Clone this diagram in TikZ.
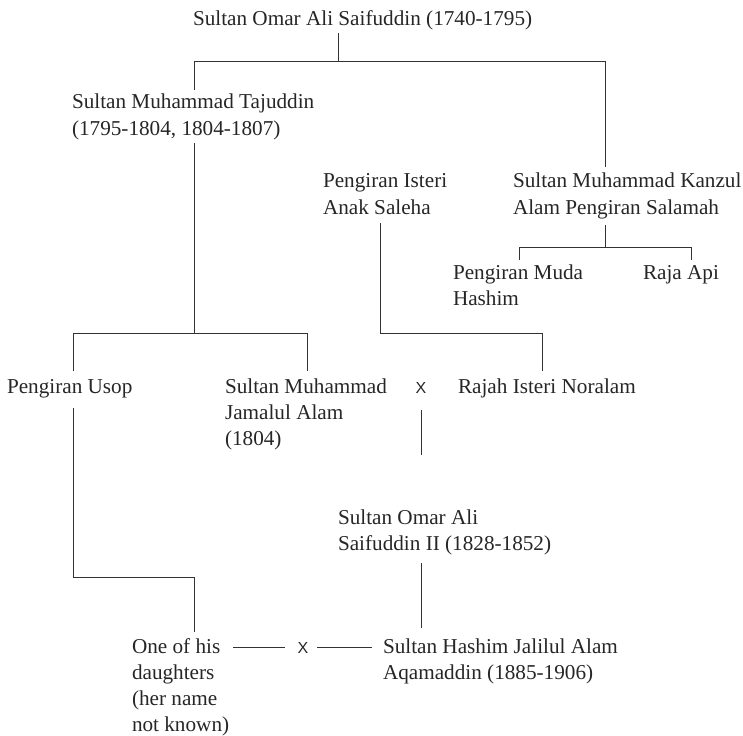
\documentclass[tikz,border=0pt]{standalone}
\usepackage{fontspec}
\setmainfont{Liberation Serif}
\newfontfamily\xfont{Liberation Sans}
\newcommand{\fs}{\fontsize{21.2}{26.3}\selectfont}
\begin{document}
\begin{tikzpicture}[x=1pt,y=-1pt,
  person/.style={inner sep=0pt, outer sep=0pt, anchor=base west, align=left, font=\fs, text=black!85},
  marr/.style={inner sep=0pt, outer sep=0pt, anchor=base, font=\xfont\fontsize{16}{18}\selectfont, text=black!85},
  conn/.style={line width=0.8pt, draw=black!80}]
\useasboundingbox (0,0) rectangle (743,735);
% people (anchor = baseline of the last line)
\node[person] (top) at (193,26) {Sultan Omar Ali Saifuddin (1740-1795)};
\node[person] (taj) at (72,135.3) {Sultan Muhammad Tajuddin\\(1795-1804, 1804-1807)};
\node[person] (isteri) at (323,214.3) {Pengiran Isteri\\Anak Saleha};
\node[person] (kanzul) at (513,214.3) {Sultan Muhammad Kanzul\\Alam Pengiran Salamah};
\node[person] (muda) at (453,305.3) {Pengiran Muda\\Hashim};
\node[person] (api) at (643,279) {Raja Api};
\node[person] (usop) at (7,393) {Pengiran Usop};
\node[person] (jamalul) at (225,445.6) {Sultan Muhammad\\Jamalul Alam\\(1804)};
\node[marr] (x1) at (421,393) {X};
\node[person] (noralam) at (458,393) {Rajah Isteri Noralam};
\node[person] (omar2) at (338,550.3) {Sultan Omar Ali\\Saifuddin II (1828-1852)};
\node[person] (daughter) at (132,731.9) {One of his\\daughters\\(her name\\not known)};
\node[marr] (x2) at (303,653) {X};
\node[person] (hashim) at (383,679.3) {Sultan Hashim Jalilul Alam\\Aqamaddin (1885-1906)};
% junction coordinates
\coordinate (a1) at (338,33);
\coordinate (a2) at (338,61);
\coordinate (aL) at (194,61);
\coordinate (aR) at (605,61);
\coordinate (tajT) at (194,90);
\coordinate (kanT) at (605,167);
\coordinate (b1) at (194,143);
\coordinate (b2) at (194,333);
\coordinate (bL) at (73,333);
\coordinate (bR) at (307,333);
\coordinate (usopT) at (73,371);
\coordinate (jamT) at (307,371);
\coordinate (c1) at (605,225);
\coordinate (c2) at (605,247);
\coordinate (cL) at (519,247);
\coordinate (cR) at (691,247);
\coordinate (mudaT) at (519,260);
\coordinate (apiT) at (691,260);
\coordinate (d1) at (380,223);
\coordinate (d2) at (380,333);
\coordinate (d3) at (542,333);
\coordinate (norT) at (542,371);
\coordinate (e1) at (421,410);
\coordinate (e2) at (421,455);
\coordinate (f1) at (73,408);
\coordinate (f2) at (73,577);
\coordinate (f3) at (194,577);
\coordinate (dauT) at (194,632);
\coordinate (g1) at (421,563);
\coordinate (hasT) at (421,628);
\coordinate (h1) at (233,647);
\coordinate (h2) at (285,647);
\coordinate (h3) at (317,647);
\coordinate (h4) at (372,647);
% connectors
\draw[conn] (a1) -- (a2);
\draw[conn] (tajT) -- (aL) -- (aR) -- (kanT);
\draw[conn] (b1) -- (b2);
\draw[conn] (usopT) -- (bL) -- (bR) -- (jamT);
\draw[conn] (c1) -- (c2);
\draw[conn] (mudaT) -- (cL) -- (cR) -- (apiT);
\draw[conn] (d1) -- (d2) -- (d3) -- (norT);
\draw[conn] (e1) -- (e2);
\draw[conn] (f1) -- (f2) -- (f3) -- (dauT);
\draw[conn] (g1) -- (hasT);
\draw[conn] (h1) -- (h2);
\draw[conn] (h3) -- (h4);
\end{tikzpicture}
\end{document}
